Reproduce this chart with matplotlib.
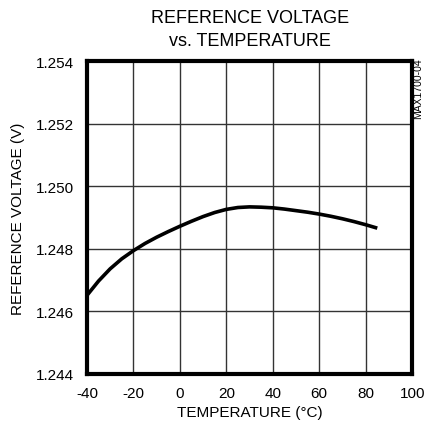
import matplotlib
matplotlib.use("Agg")
import matplotlib.pyplot as plt

temp_c = [-40, -35, -30, -25, -20, -15, -10, -5, 0, 5, 10, 15, 20, 25, 30,
          35, 40, 45, 50, 55, 60, 65, 70, 75, 80, 85]
vref = [1.24651, 1.24697, 1.24736, 1.24768, 1.24794, 1.24817, 1.24837, 1.24855,
        1.24872, 1.24888, 1.24903, 1.24916, 1.24926, 1.24932, 1.24934,
        1.24933, 1.24931, 1.24927, 1.24922, 1.24917, 1.24911, 1.24904,
        1.24896, 1.24887, 1.24877, 1.24866]

x_ticks = [-40, -20, 0, 20, 40, 60, 80, 100]
y_ticks = [1.244, 1.246, 1.248, 1.250, 1.252, 1.254]

plt.rcParams['font.family'] = ['Liberation Sans Narrow', 'Liberation Sans', 'DejaVu Sans']

fig = plt.figure(figsize=(4.24, 4.31), dpi=100)
ax = fig.add_axes([0.205, 0.130, 0.767, 0.726])

ax.plot(temp_c, vref, color='black', linewidth=2.6, solid_joinstyle='round',
        solid_capstyle='butt')

ax.set_xlim(-40, 100)
ax.set_ylim(1.244, 1.254)
ax.set_xticks(x_ticks)
ax.set_yticks(y_ticks)
ax.set_xticklabels([str(t) for t in x_ticks])
ax.set_yticklabels(["%.3f" % v for v in y_ticks])
ax.tick_params(length=0, labelsize=11, pad=9)
ax.grid(True, color='#333333', linewidth=1.0)
for s in ax.spines.values():
    s.set_linewidth(3)

ax.set_xlabel("TEMPERATURE (°C)", fontsize=11, labelpad=3)
ax.set_ylabel("REFERENCE VOLTAGE (V)", fontsize=11, labelpad=8)
fig.text(0.59, 0.93, "REFERENCE VOLTAGE\nvs. TEMPERATURE", ha='center', va='center',
         fontsize=13, linespacing=1.45)
fig.text(0.986, 0.865, "MAX1700-04", rotation=90, ha='center', va='top', fontsize=7.5)

fig.savefig("out.png", dpi=100)
